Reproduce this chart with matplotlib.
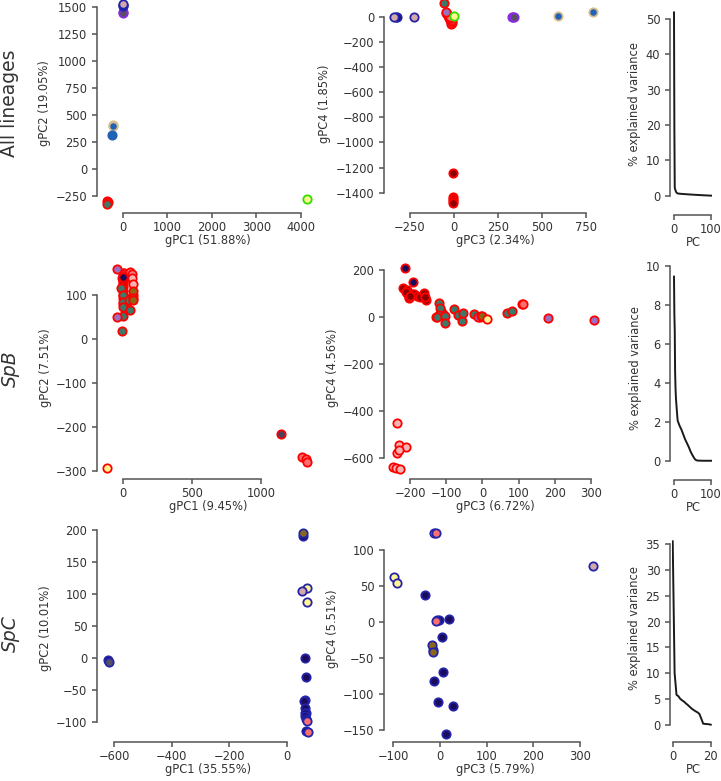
import matplotlib
matplotlib.use('Agg')
import matplotlib.pyplot as plt

W, H = 721, 781
fig = plt.figure(figsize=(W / 100, H / 100), dpi=100)

# ---------------- colours (lineage face / edge) ----------------
NAVY_F, NAVY_E = '#1b0b5c', '#2424aa'
PINK_F = '#d4a8a8'
BV = '#8a2be2'
GRAY_F = '#565060'
BLUE_F, TAN_E = '#2062b4', '#d8bc8c'
RED_F, RED_E = '#ee1c1c', '#ff0000'
TEAL_F = '#3a7a68'
DKRED_F = '#8b0000'
LAV_F = '#9a70c0'
YEL_F, GREEN_E = '#fff68f', '#33dd00'
SALMON_F = '#fa7070'
LPINK_F = '#f4b4b4'
LCORAL_F = '#f08080'
OLIVE_F = '#8b6914'
SLATE_F = '#4a4060'

# ---------------- data ----------------
# All lineages: gPC1 vs gPC2
all12_pink_navy = ([0], [1528])
all12_navy = ([0, 5], [1512, 1520])
all12_bv = ([-8], [1450])
all12_gray_bv = ([-5], [1440])
all12_blue_tan = ([-218, -222], [410, 395])
all12_blue = ([-240], [312])
all12_red = ([-350, -345], [-300, -310])
all12_teal_red = ([-350], [-320])
all12_yel_green = ([4133], [-278])

# All lineages: gPC3 vs gPC4
all34_pink_navy = ([-340, -225], [0, 0])
all34_navy = ([-330, -322], [0, 0])
all34_teal_red = ([-55], [106])
all34_lav_red = ([-46], [40])
all34_red = ([-43, -38, -30, -25, -20, -15, -12, -18, -10], [30, 20, 5, -10, -25, -40, -50, -60, -35])
all34_salmon_red = ([-35, -22], [15, -5])
all34_yel_green = ([3], [3])
all34_dkred = ([-6, -6, -6, -6, -6], [-1241, -1432, -1452, -1470, -1485])
all34_bv = ([333, 338], [0, 0])
all34_gray_bv = ([342], [0])
all34_blue_tan = ([591, 793], [5, 35])

# SpB: gPC1 vs gPC2
spb12_red = ([-3, 0, -2, 2, -3, 0, 3, -2, 5, 2, 8, 10, 30, -5, 5, 60, 70],
             [150, 145, 135, 125, 120, 110, 100, 95, 90, 80, 75, 85, 85, 140, 150, 95, 100])
spb12_dkred = ([0, 4], [130, 138])
spb12_navy_red = ([-3], [142])
spb12_teal_red = ([-12, 1, 3, 1, 46, 51, 2, -10], [116, 101, 85, 74, 89, 68, 54, 19])
spb12_lav_red = ([-41, -46], [161, 50])
spb12_lcoral_red = ([51, 63], [154, 148])
spb12_lpink_red = ([63, 70], [139, 126])
spb12_olive_red = ([75, 75, 72], [110, 95, 90])
spb12_yel_red = ([-114], [-292])
spb12_slate_red = ([1143], [-216])
spb12_salmon_red = ([1295, 1324, 1336], [-267, -273, -278])

# SpB: gPC3 vs gPC4
spb34_navy_red = ([-214, -193], [209, 152])
spb34_dkred = ([-219, -209, -205, -203, -196, -188, -180, -173, -161, -157, -160, -212, -200],
               [127, 117, 96, 81, 100, 98, 92, 88, 103, 74, 88, 110, 90])
spb34_red = ([-128, -115, -110, -8], [3, 25, 12, 3])
spb34_teal_red = ([-119, -118, -119, -126, -104, -104, -78, -69, -57, -53, -24, 68, 81],
                  [62, 38, 10, 3, 6, -23, 34, 10, -16, 20, 14, 20, 28])
spb34_olive_red = ([-5, -2], [7, 6])
spb34_lav_red = ([-12, 182, 308], [0, -4, -12])
spb34_yel_red = ([13], [-9])
spb34_salmon_red = ([109, 113], [56, 55])
spb34_lpink_red = ([-237, -230, -235, -212, -231, -246, -240, -228],
                   [-450, -546, -581, -556, -567, -641, -646, -647])

# SpC: gPC1 vs gPC2
spc12_navy = ([-620, 64, 67, 65, 60, 64, 67, 62, 64, 67, 68, 58],
              [-3, 0, -29, -65, -66, -78, -85, -85, -90, -95, -113, 190])
spc12_gray_navy = ([-618], [-6])
spc12_olive_navy = ([58], [195])
spc12_yel_navy = ([70, 72], [109, 88])
spc12_pink_navy = ([52], [105])
spc12_salmon_navy = ([70, 73], [-97, -115])

# SpC: gPC3 vs gPC4
spc34_yel_navy = ([-98.6, -91.5], [63, 54.6])
spc34_navy = ([-31, -6, -3, 20, 3.6, -14, 7, -12, -5, 28.6, 14],
              [37.5, 3, 3, 3.7, -21, -39, -70, -82, -111, -117, -155])
spc34_salmon_navy = ([-12.9, -9.3, -9.3], [124, 124, 2])
spc34_olive_navy = ([-16.4, -15], [-32, -42])
spc34_pink_navy = ([328.6], [78])

# Scree (% explained variance)
scree_all_pc = [0, 1, 2, 3, 4, 5, 6, 7, 8, 10, 15, 20, 30, 40, 50, 60, 70, 80, 90, 100]
scree_all_var = [51.88, 19.05, 2.34, 1.85, 1.5, 1.2, 1.0, 0.85, 0.75, 0.62, 0.55, 0.5, 0.42,
                 0.35, 0.28, 0.22, 0.16, 0.1, 0.05, 0.0]
scree_spb_pc = [0, 1, 2, 3, 4, 5, 6, 7, 8, 9, 10, 15, 20, 25, 30, 35, 40, 45, 50, 55, 57, 60, 63,
                70, 80, 90, 100]
scree_spb_var = [9.45, 7.51, 6.72, 4.56, 3.8, 3.3, 3.0, 2.75, 2.5, 2.25, 2.05, 1.8, 1.6, 1.35,
                 1.1, 0.9, 0.7, 0.46, 0.28, 0.12, 0.07, 0.03, 0.01, 0.005, 0.0, 0.0, 0.0]
scree_spc_pc = list(range(21))
scree_spc_var = [35.55, 10.01, 5.79, 5.51, 5.0, 4.7, 4.45, 4.1, 3.8, 3.45, 3.1, 2.85, 2.6, 2.4,
                 2.1, 1.2, 0.2, 0.15, 0.12, 0.08, 0.0]

row_labels = ['All lineages', 'SpB', 'SpC']
xlabels = [['gPC1 (51.88%)', 'gPC3 (2.34%)', 'PC'],
           ['gPC1 (9.45%)', 'gPC3 (6.72%)', 'PC'],
           ['gPC1 (35.55%)', 'gPC3 (5.79%)', 'PC']]
ylabels = [['gPC2 (19.05%)', 'gPC4 (1.85%)', '% explained variance'],
           ['gPC2 (7.51%)', 'gPC4 (4.56%)', '% explained variance'],
           ['gPC2 (10.01%)', 'gPC4 (5.51%)', '% explained variance']]

# ---------------- helpers ----------------
SP = '0.33'
TXT = '0.2'


def add_ax(L, R, T, B):
    return fig.add_axes([L / W, 1 - B / H, (R - L) / W, (B - T) / H])


def style(ax, xlim, ylim, xticks, yticks, loff, boff, xl, yl):
    ax.set_xlim(xlim)
    ax.set_ylim(ylim)
    ax.set_xticks(xticks)
    ax.set_yticks(yticks)
    for s in ['top', 'right']:
        ax.spines[s].set_visible(False)
    for s in ['left', 'bottom']:
        ax.spines[s].set_color(SP)
        ax.spines[s].set_linewidth(1.1)
    ax.spines['left'].set_position(('outward', loff * 0.72))
    ax.spines['bottom'].set_position(('outward', boff * 0.72))
    ax.spines['left'].set_bounds(yticks[0], yticks[-1])
    ax.spines['bottom'].set_bounds(xticks[0], xticks[-1])
    ax.tick_params(length=3.5, width=1.1, color=SP, labelsize=8.3, labelcolor=TXT)
    ax.tick_params(axis='x', pad=2.5)
    ax.set_xlabel(xl, fontsize=8.3, color=TXT, labelpad=0)
    ax.set_ylabel(yl, fontsize=8.3, color=TXT, labelpad=3)
    ax.patch.set_visible(False)


def pts(ax, grp, face, edge):
    ax.scatter(grp[0], grp[1], s=36, c=face, edgecolors=edge, linewidths=1.3,
               clip_on=False, zorder=3)


# ---------------- row 1 ----------------
ax = add_ax(104, 312, 0, 207)
pts(ax, all12_red, RED_F, RED_E)
pts(ax, all12_teal_red, TEAL_F, RED_E)
pts(ax, all12_blue_tan, BLUE_F, TAN_E)
pts(ax, all12_blue, BLUE_F, BLUE_F)
pts(ax, all12_bv, BV, BV)
pts(ax, all12_gray_bv, GRAY_F, BV)
pts(ax, all12_navy, NAVY_F, NAVY_E)
pts(ax, all12_pink_navy, PINK_F, NAVY_E)
pts(ax, all12_yel_green, YEL_F, GREEN_E)
style(ax, (-427, 4252), (-352, 1565), [0, 1000, 2000, 3000, 4000],
      [-250, 0, 250, 500, 750, 1000, 1250, 1500], 7, 6, xlabels[0][0], ylabels[0][0])

ax = add_ax(390, 600, 0, 207)
pts(ax, all34_navy, NAVY_F, NAVY_E)
pts(ax, all34_pink_navy, PINK_F, NAVY_E)
pts(ax, all34_red, RED_F, RED_E)
pts(ax, all34_salmon_red, SALMON_F, RED_E)
pts(ax, all34_teal_red, TEAL_F, RED_E)
pts(ax, all34_lav_red, LAV_F, RED_E)
pts(ax, all34_yel_green, YEL_F, GREEN_E)
pts(ax, all34_dkred, DKRED_F, RED_E)
pts(ax, all34_bv, BV, BV)
pts(ax, all34_gray_bv, GRAY_F, BV)
pts(ax, all34_blue_tan, BLUE_F, TAN_E)
style(ax, (-362, 831), (-1514, 133), [-250, 0, 250, 500, 750],
      [-1400, -1200, -1000, -800, -600, -400, -200, 0], 6, 6, xlabels[0][1], ylabels[0][1])

ax = add_ax(673, 714, 0, 208)
ax.plot(scree_all_pc, scree_all_var, color='0.1', lw=1.4)
style(ax, (-2.7, 108), (-3.5, 55.4), [0, 100], [0, 10, 20, 30, 40, 50], 3, 7,
      xlabels[0][2], ylabels[0][2])

# ---------------- row 2 ----------------
ax = add_ax(104, 312, 262, 474)
pts(ax, spb12_red, RED_F, RED_E)
pts(ax, spb12_dkred, DKRED_F, RED_E)
pts(ax, spb12_navy_red, NAVY_F, RED_E)
pts(ax, spb12_teal_red, TEAL_F, RED_E)
pts(ax, spb12_lav_red, LAV_F, RED_E)
pts(ax, spb12_lcoral_red, LCORAL_F, RED_E)
pts(ax, spb12_lpink_red, LPINK_F, RED_E)
pts(ax, spb12_olive_red, OLIVE_F, RED_E)
pts(ax, spb12_yel_red, YEL_F, RED_E)
pts(ax, spb12_slate_red, SLATE_F, RED_E)
pts(ax, spb12_salmon_red, SALMON_F, RED_E)
style(ax, (-138, 1370), (-306, 176), [0, 500, 1000], [-300, -200, -100, 0, 100], 7, 5,
      xlabels[1][0], ylabels[1][0])

ax = add_ax(390, 600, 262, 474)
pts(ax, spb34_dkred, DKRED_F, RED_E)
pts(ax, spb34_navy_red, NAVY_F, RED_E)
pts(ax, spb34_red, RED_F, RED_E)
pts(ax, spb34_teal_red, TEAL_F, RED_E)
pts(ax, spb34_lav_red, LAV_F, RED_E)
pts(ax, spb34_olive_red, OLIVE_F, RED_E)
pts(ax, spb34_yel_red, YEL_F, RED_E)
pts(ax, spb34_salmon_red, SALMON_F, RED_E)
pts(ax, spb34_lpink_red, LPINK_F, RED_E)
style(ax, (-255.5, 324.6), (-669.7, 236.3), [-200, -100, 0, 100, 200, 300],
      [-600, -400, -200, 0, 200], 6, 5, xlabels[1][1], ylabels[1][1])

ax = add_ax(673, 714, 262, 474)
ax.plot(scree_spb_pc, scree_spb_var, color='0.1', lw=1.4)
style(ax, (-2.7, 108), (-0.68, 10.2), [0, 100], [0, 2, 4, 6, 8, 10], 3, 6,
      xlabels[1][2], ylabels[1][2])

# ---------------- row 3 ----------------
ax = add_ax(104, 312, 522, 735)
pts(ax, spc12_navy, NAVY_F, NAVY_E)
pts(ax, spc12_gray_navy, GRAY_F, NAVY_E)
pts(ax, spc12_olive_navy, OLIVE_F, NAVY_E)
pts(ax, spc12_yel_navy, YEL_F, NAVY_E)
pts(ax, spc12_pink_navy, PINK_F, NAVY_E)
pts(ax, spc12_salmon_navy, SALMON_F, NAVY_E)
style(ax, (-635.5, 88), (-119.5, 212.3), [-600, -400, -200, 0],
      [-100, -50, 0, 50, 100, 150, 200], 7, 7, xlabels[2][0], ylabels[2][0])

ax = add_ax(390, 600, 522, 735)
pts(ax, spc34_navy, NAVY_F, NAVY_E)
pts(ax, spc34_yel_navy, YEL_F, NAVY_E)
pts(ax, spc34_salmon_navy, SALMON_F, NAVY_E)
pts(ax, spc34_olive_navy, OLIVE_F, NAVY_E)
pts(ax, spc34_pink_navy, PINK_F, NAVY_E)
style(ax, (-107, 343), (-157, 138.9), [-100, 0, 100, 200, 300],
      [-150, -100, -50, 0, 50, 100], 6, 7, xlabels[2][1], ylabels[2][1])

ax = add_ax(672, 714, 522, 735)
ax.plot(scree_spc_pc, scree_spc_var, color='0.1', lw=1.4)
style(ax, (-0.37, 21.7), (-2.0, 39.3), [0, 20], [0, 5, 10, 15, 20, 25, 30, 35], 2, 7,
      xlabels[2][2], ylabels[2][2])

# ---------------- row labels ----------------
fig.text(10 / W, 1 - 103 / H, row_labels[0], rotation=90, fontsize=13.5, color=TXT,
         ha='center', va='center')
fig.text(10 / W, 1 - 369 / H, row_labels[1], rotation=90, fontsize=13.5, color=TXT,
         ha='center', va='center', style='italic')
fig.text(10 / W, 1 - 634 / H, row_labels[2], rotation=90, fontsize=13.5, color=TXT,
         ha='center', va='center', style='italic')

fig.savefig('out.png', dpi=100)
